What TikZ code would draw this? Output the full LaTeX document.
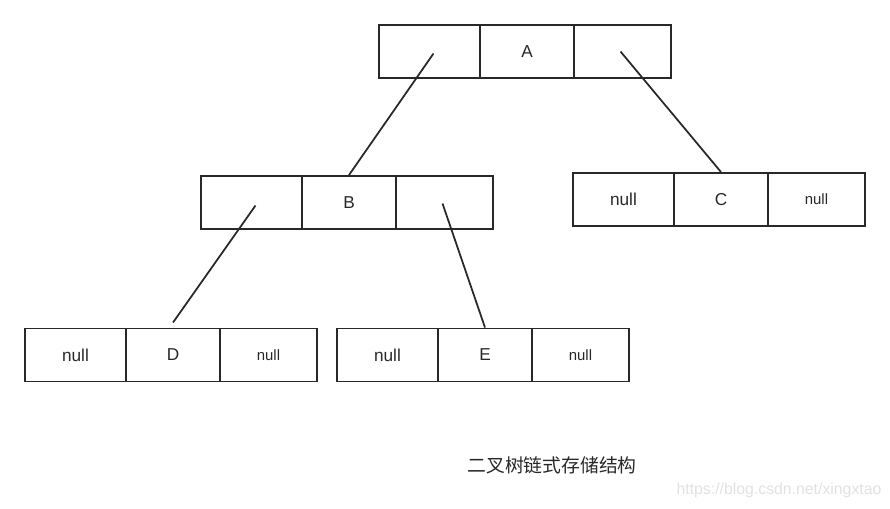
\documentclass[tikz,border=0pt]{standalone}
\usepackage{fontspec}
\setmainfont{Liberation Sans}
\newfontfamily\cjk{Noto Sans CJK SC}
\usepackage{tikz}
\usetikzlibrary{positioning}
\definecolor{ink}{RGB}{40,40,40}
\definecolor{faint}{RGB}{225,225,225}

\begin{document}
\begin{tikzpicture}[x=0.02cm, y=-0.02cm,
  cell/.style={draw=ink, line width=1.1pt, minimum height=1.06cm, inner sep=0pt, text depth=0pt, font=\fontsize{9.8}{11}\selectfont, text=ink},
  lcell/.style={cell, minimum width=2.02cm},
  mcell/.style={cell, minimum width=1.88cm},
  rcell/.style={cell, minimum width=1.94cm},
  small/.style={font=\fontsize{8.5}{10}\selectfont},
  link/.style={draw=ink, line width=1pt}]
\useasboundingbox (0,0) rectangle (890,508);
% node A
\node[lcell] (a1) at (429.5,51.5) {};
\node[mcell] (a2) at (527,51.5) {A};
\node[rcell] (a3) at (622.5,51.5) {};
% node B
\node[lcell] (b1) at (251.5,202.5) {};
\node[mcell] (b2) at (349,202.5) {B};
\node[rcell] (b3) at (444.5,202.5) {};
% node C
\node[lcell] (c1) at (623.5,199.5) {null};
\node[mcell] (c2) at (721,199.5) {C};
\node[rcell, small] (c3) at (816.5,199.5) {null};
% node D
\node[lcell] (d1) at (75.5,355) {null};
\node[mcell] (d2) at (173,355) {D};
\node[rcell, small] (d3) at (268.5,355) {null};
% node E
\node[lcell] (e1) at (387.5,355) {null};
\node[mcell] (e2) at (485,355) {E};
\node[rcell, small] (e3) at (580.5,355) {null};
% pointers
\draw[link] ([shift={(4,2)}]a1.center) -- (b2.north);
\draw[link] ([shift={(-2,0)}]a3.center) -- (c2.north);
\draw[link] ([shift={(4,3)}]b1.center) -- ([shift={(0,-5)}]d2.north);
\draw[link] ([shift={(-2,1)}]b3.center) -- (e2.north);
% caption
\node[text=ink, font=\cjk\fontsize{10.7}{12}\selectfont] (cap) at (552,465) {二叉树链式存储结构};
\node[text=faint, font=\fontsize{9}{11}\selectfont] (mark) at (779,490) {https://blog.csdn.net/xingxtao};
\end{tikzpicture}
\end{document}
